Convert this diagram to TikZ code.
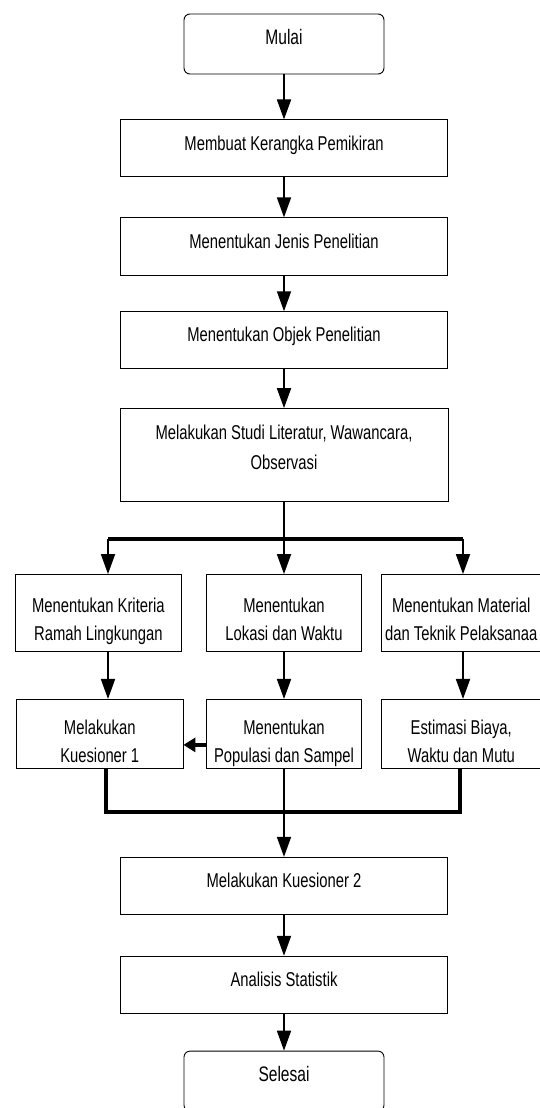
\documentclass[tikz,border=0pt]{standalone}
\usepackage{fontspec}
\setmainfont{Liberation Sans}[FakeStretch=0.74]
\usetikzlibrary{arrows.meta,positioning}

\begin{document}
\begin{tikzpicture}[x=1pt,y=-1pt,node distance=40pt,
  every node/.style={font=\fontsize{20}{28}\selectfont},
  box/.style={draw,line width=0.9pt,minimum width=327pt,minimum height=57pt,inner sep=1pt,text height=9pt,text depth=5.5pt},
  endbox/.style={box,rounded corners=6pt,minimum width=200pt,minimum height=60pt,font=\fontsize{21}{28}\selectfont,text depth=7.7pt},
  twobox/.style={draw,line width=0.9pt,minimum height=77pt,inner sep=1pt,align=center,text height=57.6pt,text depth=2pt},
  lowbox/.style={twobox,minimum height=69pt,text height=59.6pt,text depth=2pt},
  arr/.style={-{Triangle[width=14pt,length=20pt]},line width=1.8pt},
  harr/.style={-{Triangle[width=14pt,length=12pt]},line width=3.5pt},
  bus/.style={line width=3.5pt,line join=miter}]
  \useasboundingbox (0,0) rectangle (540,1108);
  \clip (0,0) rectangle (540,1108);
  % main column
  \node[endbox] (mulai) at (284,44) {Mulai};
  \node[box,below=45pt of mulai] (kerangka) {Membuat Kerangka Pemikiran};
  \node[box,below=40pt of kerangka,minimum height=58pt] (jenis) {Menentukan Jenis Penelitian};
  \node[box,below=35pt of jenis] (objek) {Menentukan Objek Penelitian};
  \node[twobox,below=39pt of objek,minimum width=328pt,minimum height=93pt,font=\fontsize{20}{30}\selectfont,text height=45.6pt,text depth=16pt] (studi) {Melakukan Studi Literatur, Wawancara,\\Observasi};
  % three branches
  \node[twobox,minimum width=155pt,below=72pt of studi] (lokasi) {Menentukan\\Lokasi dan Waktu};
  \node[twobox,minimum width=166.5pt,left=24pt of lokasi] (kriteria) {Menentukan Kriteria\\Ramah Lingkungan};
  \node[twobox,minimum width=160.5pt,right=18.6pt of lokasi] (material) {Menentukan Material\\dan Teknik Pelaksanaa};
  \node[lowbox,minimum width=155pt,below=47pt of lokasi] (populasi) {Menentukan\\Populasi dan Sampel};
  \node[lowbox,minimum width=166.5pt,left=22.6pt of populasi] (kues1) {Melakukan\\Kuesioner 1};
  \node[lowbox,minimum width=160.5pt,right=18.6pt of populasi] (biaya) {Estimasi Biaya,\\Waktu dan Mutu};
  \node[box,below=88pt of populasi] (kues2) {Melakukan Kuesioner 2};
  \node[box,below=41pt of kues2] (analisis) {Analisis Statistik};
  \node[endbox,below=37pt of analisis] (selesai) {Selesai};
  % connectors
  \coordinate (bl) at (108,539);
  \coordinate (br) at (463,539);
  \coordinate (jl) at (106,812);
  \coordinate (jr) at (460,812);
  \coordinate (pw) at ([yshift=-11pt]populasi.west);
  \foreach \x/\y in {mulai/kerangka,kerangka/jenis,jenis/objek,objek/studi,populasi/kues2,kues2/analisis,analisis/selesai}{\draw[arr] (\x)--(\y);}
  \draw[line width=2pt] (studi.south) -- (studi.south |- bl);
  \draw[bus] (bl) -- (br);
  \draw[arr] (studi.south |- bl) -- (lokasi.north);
  \foreach \c/\n in {bl/kriteria,br/material}{\draw[arr] (\c) -- (\c |- \n.north);}
  \foreach \a/\b/\c in {kriteria/kues1/bl,lokasi/populasi/lokasi,material/biaya/br}{\draw[arr] (\a.south -| \c) -- (\b.north -| \c);}
  \draw[harr] (pw) -- (pw -| kues1.east);
  \draw[bus] (kues1.south -| jl) -- (jl) -- (jr) -- (biaya.south -| jr);
\end{tikzpicture}
\end{document}
